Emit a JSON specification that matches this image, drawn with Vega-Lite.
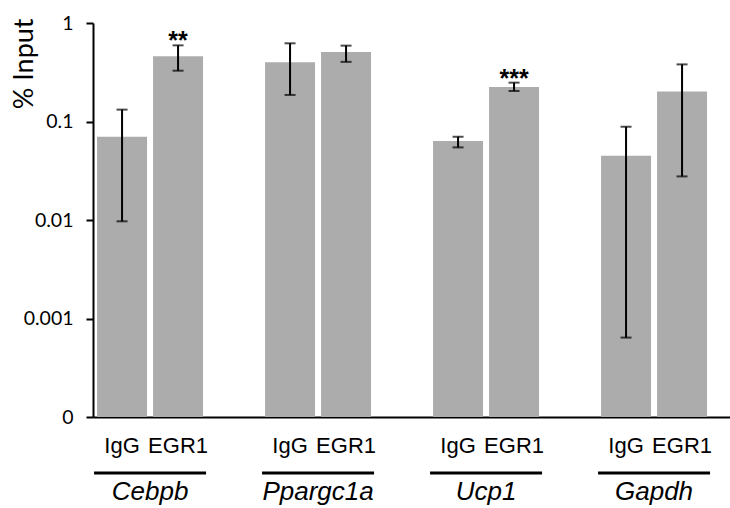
{
  "$schema": "https://vega.github.io/schema/vega-lite/v6.json",
  "autosize": "none",
  "width": 637,
  "height": 394,
  "padding": {"left": 93, "top": 23, "right": 0, "bottom": 91},
  "background": "white",
  "config": {"view": {"stroke": null}},
  "data": {
    "values": [
      {"gene": "Cebpb", "cond": "IgG", "value": 0.070, "lo": 0.0097, "hi": 0.132, "sig": ""},
      {"gene": "Cebpb", "cond": "EGR1", "value": 0.459, "lo": 0.328, "hi": 0.593, "sig": "**"},
      {"gene": "Ppargc1a", "cond": "IgG", "value": 0.399, "lo": 0.186, "hi": 0.622, "sig": ""},
      {"gene": "Ppargc1a", "cond": "EGR1", "value": 0.508, "lo": 0.403, "hi": 0.589, "sig": ""},
      {"gene": "Ucp1", "cond": "IgG", "value": 0.0634, "lo": 0.0546, "hi": 0.070, "sig": ""},
      {"gene": "Ucp1", "cond": "EGR1", "value": 0.224, "lo": 0.204, "hi": 0.248, "sig": "***"},
      {"gene": "Gapdh", "cond": "IgG", "value": 0.0449, "lo": 0.00064, "hi": 0.0885, "sig": ""},
      {"gene": "Gapdh", "cond": "EGR1", "value": 0.202, "lo": 0.0277, "hi": 0.380, "sig": ""}
    ]
  },
  "encoding": {
    "x": {
      "field": "gene", "type": "nominal",
      "sort": ["Cebpb", "Ppargc1a", "Ucp1", "Gapdh"],
      "scale": {"paddingInner": 0.3333, "paddingOuter": 0.0625, "align": 0.05},
      "axis": {"labels": false, "ticks": false, "title": null, "domain": true, "domainColor": "black", "domainWidth": 2, "grid": false}
    },
    "xOffset": {
      "field": "cond", "type": "nominal", "sort": ["IgG", "EGR1"],
      "scale": {"paddingInner": 0.107, "paddingOuter": 0.0535}
    }
  },
  "layer": [
    {
      "mark": {"type": "bar", "color": "#acacac"},
      "encoding": {
        "y": {
          "field": "value", "type": "quantitative",
          "scale": {"type": "log", "domain": [0.0001, 1], "nice": false},
          "axis": {
            "values": [0.0001, 0.001, 0.01, 0.1, 1],
            "labelExpr": "datum.value > 0.5 ? '1' : datum.value > 0.05 ? '0.1' : datum.value > 0.005 ? '0.01' : datum.value > 0.0005 ? '0.001' : '0'",
            "grid": false,
            "domainColor": "black", "domainWidth": 2,
            "tickColor": "black", "tickWidth": 2, "tickSize": 7,
            "labelFont": "Lato", "labelFontSize": 19.5, "labelColor": "black", "labelPadding": 13,
            "title": "% Input",
            "titleFont": "Lato", "titleFontSize": 27, "titleFontWeight": "normal", "titleColor": "black",
            "titleAngle": -90, "titleAlign": "right", "titleBaseline": "middle",
            "titleX": -69, "titleY": -5
          }
        },
        "y2": {"datum": 0.0001}
      }
    },
    {
      "mark": {"type": "rule", "color": "black", "strokeWidth": 2},
      "encoding": {
        "y": {"field": "lo", "type": "quantitative"},
        "y2": {"field": "hi"}
      }
    },
    {
      "mark": {"type": "tick", "color": "black", "thickness": 2, "size": 11},
      "encoding": {"y": {"field": "lo", "type": "quantitative"}}
    },
    {
      "mark": {"type": "tick", "color": "black", "thickness": 2, "size": 11},
      "encoding": {"y": {"field": "hi", "type": "quantitative"}}
    },
    {
      "transform": [{"filter": "datum.sig != ''"}],
      "mark": {"type": "text", "font": "Liberation Sans", "fontSize": 25, "fontWeight": "bold", "baseline": "alphabetic", "dy": 4, "color": "black"},
      "encoding": {
        "y": {"field": "hi", "type": "quantitative"},
        "text": {"field": "sig"}
      }
    },
    {
      "mark": {"type": "text", "font": "Liberation Sans", "fontSize": 22, "baseline": "alphabetic", "dy": 36, "color": "black"},
      "encoding": {
        "y": {"datum": 0.0001},
        "text": {"field": "cond"}
      }
    },
    {
      "transform": [{"filter": "datum.cond == 'IgG'"}],
      "mark": {"type": "rule", "color": "black", "strokeWidth": 3, "yOffset": 56},
      "encoding": {
        "x": {"field": "gene", "type": "nominal", "sort": ["Cebpb", "Ppargc1a", "Ucp1", "Gapdh"], "bandPosition": 0},
        "x2": {"field": "gene", "bandPosition": 1},
        "xOffset": null,
        "y": {"datum": 0.0001}
      }
    },
    {
      "transform": [{"filter": "datum.cond == 'IgG'"}],
      "mark": {"type": "text", "font": "Liberation Sans", "fontSize": 26, "fontStyle": "italic", "baseline": "alphabetic", "dy": 83, "color": "black"},
      "encoding": {
        "xOffset": null,
        "y": {"datum": 0.0001},
        "text": {"field": "gene"}
      }
    }
  ]
}
